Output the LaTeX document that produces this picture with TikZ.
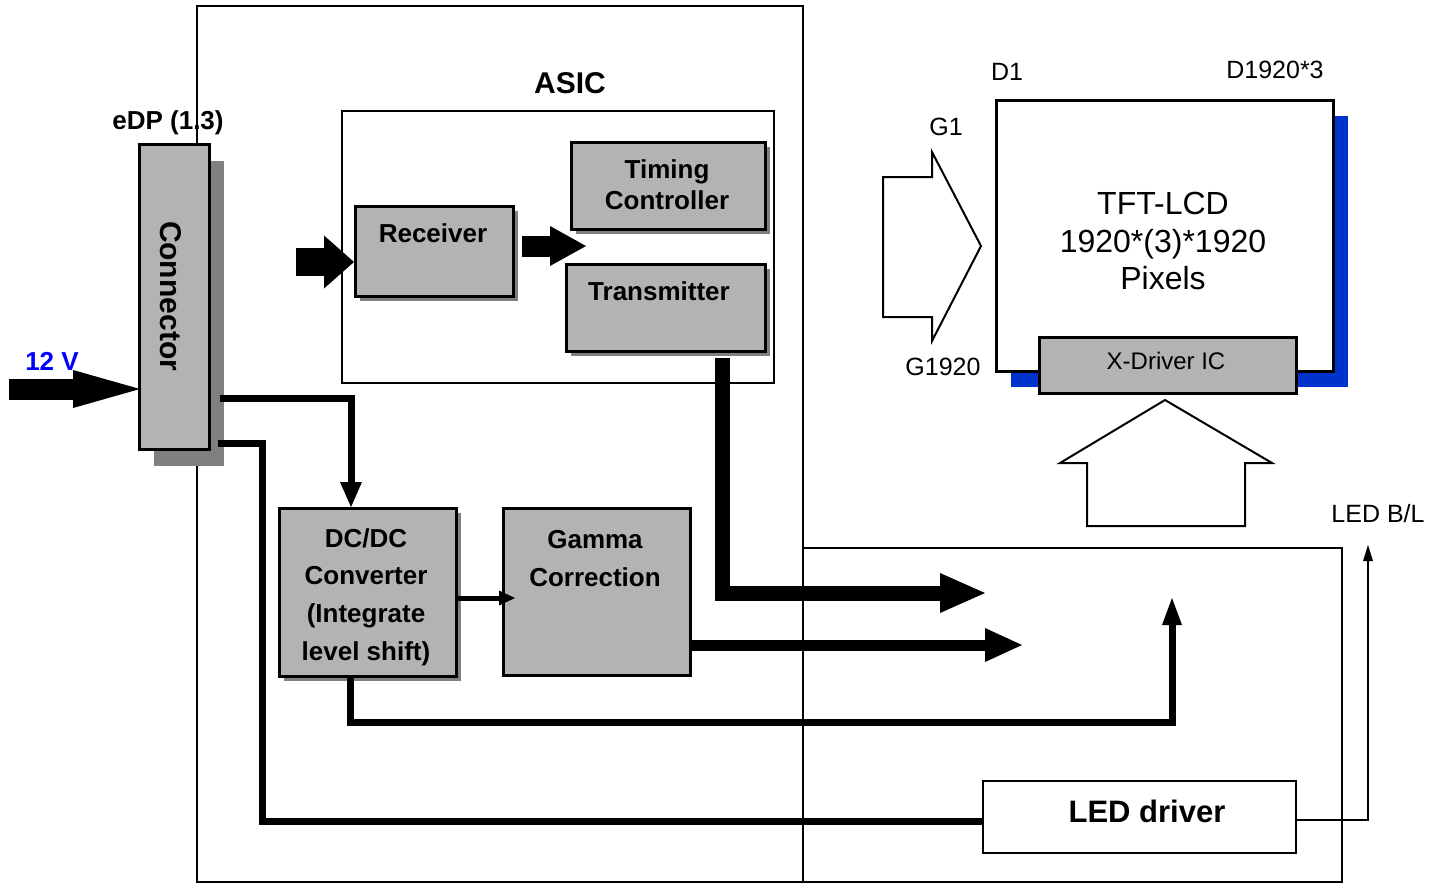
\documentclass[tikz,border=0pt]{standalone}
\usepackage{fontspec}
\setmainfont{Liberation Sans}
\usetikzlibrary{arrows.meta,shadows,calc}
\definecolor{boxgray}{RGB}{179,179,179}
\definecolor{shadowgray}{RGB}{128,128,128}
\definecolor{lcdblue}{RGB}{0,51,204}
\definecolor{voltblue}{RGB}{0,0,255}
\newcommand{\myfs}[2]{\fontsize{#1pt}{#2pt}\selectfont}
\begin{document}
\begin{tikzpicture}[x=1pt,y=-1pt,
  frame/.style={draw, line width=1.5pt},
  gfill/.style={draw, line width=2.5pt, fill=boxgray, inner sep=0pt, anchor=north west},
  gbox/.style={gfill, general shadow={fill=shadowgray, shadow xshift=5pt, shadow yshift=-5pt}},
  wbox/.style={draw, line width=2.5pt, fill=white, inner sep=0pt, anchor=north west},
  btext/.style={font=\bfseries\myfs{26}{31}, align=center, inner sep=0pt},
  ntext/.style={font=\myfs{25}{30}, align=center, inner sep=0pt},
  wire/.style={line width=7pt, line join=miter},
  hollow/.style={draw, line width=2pt, line join=miter, fill=white}
]
\useasboundingbox (0,0) rectangle (1447,884);

% outer frames
\draw[frame] (197,6) rectangle (803,882);
\draw[frame] (803,548) rectangle (1342,882);
\draw[frame] (342,111) rectangle (774,383);

% labels
\node[btext, font=\bfseries\myfs{30}{36}] (asic) at (570,83) {ASIC};
\node[btext] (edp) at (168,123) {eDP (1.3)};
\node[btext, text=voltblue] (v12) at (52,361) {12 V};

% connector
\node[gfill, minimum width=70pt, minimum height=305pt,
      general shadow={fill=shadowgray, shadow xshift=15pt, shadow yshift=-17pt}] (con) at (138,143) {};
\node[btext, font=\bfseries\myfs{30}{36}, rotate=-90] (contxt) at (171,296) {Connector};

% ASIC blocks
\node[gbox, minimum width=158pt, minimum height=90pt] (rec) at (354,205) {};
\node[btext] (rectxt) at (433,233) {Receiver};
\node[gbox, minimum width=194pt, minimum height=87pt] (tc) at (570,141) {};
\node[btext] (tctxt) at (667,185) {Timing\\Controller};
\node[gbox, minimum width=199pt, minimum height=87pt] (tr) at (565,263) {};
\node[btext] (trtxt) at (659,291) {Transmitter};

\node[gbox, minimum width=177pt, minimum height=168pt] (dc) at (278,507) {};
\node[btext, font=\bfseries\myfs{26}{37.7}] (dctxt) at (366,597) {DC/DC\\Converter\\(Integrate\\level shift)};
\node[gfill, minimum width=187pt, minimum height=167pt] (ga) at (502,507) {};
\node[btext, font=\bfseries\myfs{26}{38}] (gatxt) at (595,559) {Gamma\\Correction};

% LED driver
\node[wbox, line width=2pt, minimum width=313pt, minimum height=72pt] (led) at (982,780) {};
\node[btext, font=\bfseries\myfs{31}{36}] (ledtxt) at (1147,811) {LED driver};

% LCD panel
\node[wbox, minimum width=337pt, minimum height=271pt,
      general shadow={fill=lcdblue, shadow xshift=15pt, shadow yshift=-16pt}] (lcd) at (995,99) {};
\node[ntext, font=\myfs{32}{37.5}] (lcdtxt) at (1163,241) {TFT-LCD\\1920*(3)*1920\\Pixels};
\node[gfill, minimum width=257pt, minimum height=56pt] (xd) at (1038,336) {};
\node[ntext, font=\myfs{24}{28}] (xdtxt) at (1166,361) {X-Driver IC};

\node[ntext] (d1) at (1007,72) {D1};
\node[ntext] (dn) at (1275,70) {D1920*3};
\node[ntext] (g1) at (946,127) {G1};
\node[ntext] (gn) at (943,367) {G1920};
\node[ntext] (bl) at (1378,514) {LED B/L};

% hollow arrows
\draw[hollow] (883,177) -- (932,177) -- (932,152) -- (981,246) -- (932,341) -- (932,317) -- (883,317) -- cycle;
\draw[hollow] (1087,526) -- (1087,463) -- (1060,463) -- (1165,400) -- (1272,463) -- (1245,463) -- (1245,526) -- cycle;

% coordinates
\coordinate (v0) at (9,389);
\coordinate (r0) at (296,262);
\coordinate (rt) at (586,246);
\coordinate (k1) at (351,398);
\coordinate (k2) at (262,443);
\coordinate (k3) at (262,821);
\coordinate (k4) at (350,722);
\coordinate (k5) at (1172,598);
\coordinate (k6) at (722,593);
\coordinate (t1) at (985,593);
\coordinate (t2) at (1022,645);
\coordinate (g0) at (515,598);
\coordinate (b1) at (1368,820);
\coordinate (b2) at (1368,545);

% block arrows
\draw[line width=21pt, -{Triangle[width=38pt,length=67pt,line width=0pt]}] (v0) -- ([xshift=2pt]v0 -| con.west);
\draw[line width=28pt, -{Triangle[width=53pt,length=30pt,line width=0pt]}] (r0) -- (r0 -| rec.west);
\draw[line width=21pt, shorten <=7pt, -{Triangle[width=40pt,length=36pt,line width=0pt]}] (rec.east |- rt) -- (rt);
\draw[line width=15pt, line join=miter, shorten <=5pt, -{Triangle[width=40pt,length=45pt,line width=0pt]}] (tr.south -| k6) -- (k6) -- (t1);
\draw[line width=11pt, -{Triangle[width=34pt,length=37pt,line width=0pt]}] (ga.east |- t2) -- (t2);

% wires
\draw[wire, shorten <=9pt, -{Triangle[width=22pt,length=25pt,line width=0pt]}] (con.east |- k1) -- (k1) -- (k1 |- dc.north);
\draw[wire, shorten <=7pt] (con.east |- k2) -- (k2) -- (k3) -- (k3 -| led.west);
\draw[wire, -{Triangle[width=20pt,length=27pt,line width=0pt]}] (dc.south -| k4) -- (k4) -- (k4 -| k5) -- (k5);
\draw[line width=5pt, -{Triangle[width=15pt,length=16pt,line width=0pt]}] (dc.east |- g0) -- (g0);
\draw[line width=1.5pt, line join=miter, -{Triangle[width=10pt,length=16pt,line width=0pt]}] (led.east |- b1) -- (b1) -- (b2);
\end{tikzpicture}
\end{document}
